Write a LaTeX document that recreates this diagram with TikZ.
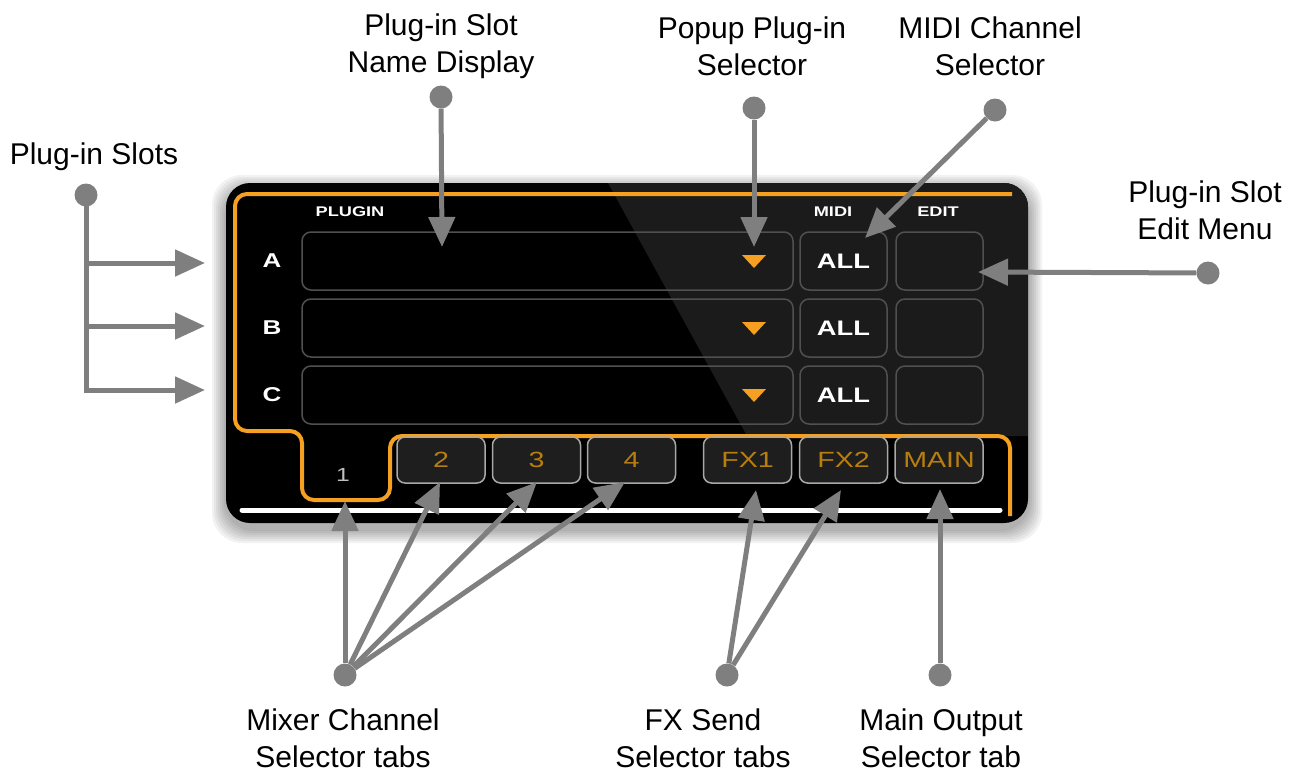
\documentclass[tikz,border=0pt]{standalone}
\usepackage{fontspec}
\setmainfont{Liberation Sans}
\newfontfamily\panelfont[FakeStretch=1.3]{Liberation Sans}
\usetikzlibrary{arrows.meta,shapes}
\definecolor{callgrey}{HTML}{7F7F7F}
\definecolor{plugorange}{HTML}{F5A020}
\definecolor{tabtext}{HTML}{B87E10}
\definecolor{slotedge}{HTML}{505050}
\definecolor{tabedge}{HTML}{A8A8A8}
\definecolor{tabfill}{HTML}{1E1E1E}
\definecolor{sheen}{HTML}{1B1B1B}
\tikzstyle{calldot}=[circle,fill=callgrey,minimum size=23pt,inner sep=0pt]
\tikzstyle{callarrow}=[draw=callgrey,line width=5pt,-{Triangle[length=30pt,width=26pt]}]
\tikzstyle{caption}=[align=center,inner sep=1pt,font=\fontsize{30}{37}\selectfont]
\tikzstyle{slot}=[draw=slotedge,line width=1.5pt,rounded corners=9pt,minimum height=58pt,inner sep=0pt]
\tikzstyle{tab}=[draw=tabedge,fill=tabfill,line width=1.5pt,rounded corners=8pt,minimum width=88pt,minimum height=46pt,inner sep=0pt,text=tabtext,font=\panelfont\fontsize{22}{22}\selectfont]
\tikzstyle{tabone}=[minimum width=80pt,minimum height=50pt,inner sep=0pt,text=black!25,font=\panelfont\fontsize{19}{19}\selectfont]
\tikzstyle{rowlabel}=[text=white,font=\panelfont\bfseries\fontsize{20}{20}\selectfont]
\tikzstyle{colhead}=[text=white,font=\panelfont\bfseries\fontsize{14}{14}\selectfont]
\tikzstyle{alltext}=[text=white,font=\panelfont\bfseries\fontsize{21}{21}\selectfont]

\begin{document}
\begin{tikzpicture}[x=1pt,y=-1pt]
    \useasboundingbox (0,0) rectangle (1298,772);
    % panel with soft shadow
    \foreach \s in {2,4,...,14}
        \fill[black,opacity=0.05,rounded corners=30pt] (226-\s,183-\s+6) rectangle (1028+\s,523+\s+6);
    \fill[black,rounded corners=24pt] (226,183) rectangle (1028,523);
    \begin{scope}
        \clip[rounded corners=24pt] (226,183) rectangle (1028,523);
        \fill[sheen] (608,183) -- (1028,183) -- (1028,436) -- (747,436) -- cycle;
    \end{scope}
    \draw[plugorange,line width=4pt,rounded corners=12pt] (1012,194) -- (235,194) -- (235,431) -- (302,431) -- (302,500) -- (390,500) -- (390,436) -- (1010,436) -- (1010,516);
    \draw[white,line width=5pt,line cap=round] (242,510) -- (1000,510);
    % slots
    \node[colhead] (hPlugin) at (350,212) {PLUGIN};
    \node[colhead] (hMidi) at (833,212) {MIDI};
    \node[colhead] (hEdit) at (938,212) {EDIT};
    \foreach \row/\y in {A/261,B/328,C/395} {
        \node[rowlabel] (lbl\row) at (272,\y) {\row};
        \node[slot,minimum width=491pt] (name\row) at (547.5,\y) {};
        \node[slot,minimum width=87pt] (midi\row) at (843.5,\y) {};
        \node[slot,minimum width=87pt] (edit\row) at (939.5,\y) {};
        \node[alltext] at (midi\row) {ALL};
        \fill[plugorange] (742,\y-6) -- (766,\y-6) -- (754,\y+7) -- cycle;
    }
    % tabs
    \node[tabone] (tab1) at (343,475) {1};
    \foreach \name/\x/\lbl in {tab2/441/2, tab3/536.5/3, tab4/631.5/4, fx1/747.5/FX1, fx2/843.5/FX2, main/939/MAIN}
        \node[tab] (\name) at (\x,460) {\lbl};
    % callouts
    \foreach \pos/\name in {{(441,97)/dName}, {(754,108)/dPop}, {(995,110)/dMidi}, {(1208,273)/dEdit}, {(86,195)/dSlots}, {(345,675)/dMixer}, {(727,675)/dFx}, {(940,675)/dMain}}
        \node[calldot] (\name) at \pos {};
    \node[caption] (cName) at (441,46) {Plug-in Slot\\Name Display};
    \node[caption] (cPop) at (752,46) {Popup Plug-in\\Selector};
    \node[caption] (cMidi) at (990,46) {MIDI Channel\\Selector};
    \node[caption] (cSlots) at (94,157) {Plug-in Slots};
    \node[caption] (cEdit) at (1205,210) {Plug-in Slot\\Edit Menu};
    \node[caption] (cMixer) at (343,738) {Mixer Channel\\Selector tabs};
    \node[caption] (cFx) at (703,738) {FX Send\\Selector tabs};
    \node[caption] (cMain) at (941,738) {Main Output\\Selector tab};
    \foreach \name/\x/\y in {tName/442/247, tPop/754/247, tMidi/865/238, tEdit/978/272, t1/345/501, t2/440/482, t3/537/482, t4/625/482, tFx1/756/490, tFx2/841/490, tMain/940/489, bA/86/263, bB/86/326, sA/205/263, sB/205/326, sC/205/390}
        \coordinate (\name) at (\x,\y);
    \foreach \a/\b in {dName/tName, dPop/tPop, dMidi/tMidi, dEdit/tEdit, dMixer/t1, dMixer/t2, dMixer/t3, dMixer/t4, dFx/tFx1, dFx/tFx2, dMain/tMain, bA/sA, bB/sB} {
        \draw[callarrow] (\a) -- (\b);
    }
    \draw[callarrow] (dSlots.center) |- (sC);
\end{tikzpicture}
\end{document}
